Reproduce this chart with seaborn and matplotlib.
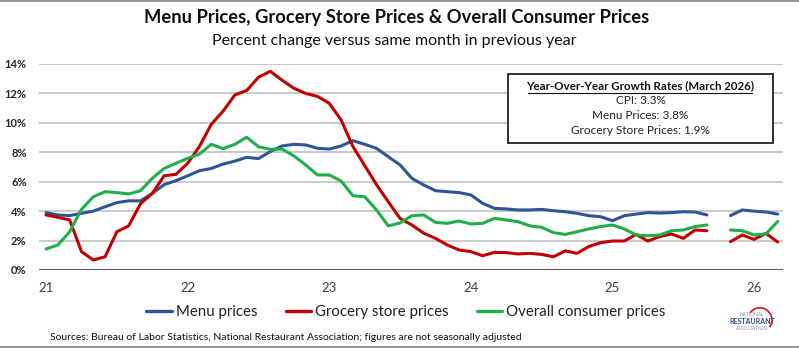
import numpy as np
import pandas as pd
import matplotlib
matplotlib.use("Agg")
import matplotlib.pyplot as plt
from matplotlib.lines import Line2D
from matplotlib.patches import Arc
import seaborn as sns

sns.set_theme(style="white")
plt.rcParams['font.family'] = ['Lato', 'DejaVu Sans']

# Monthly data Jan 2021 .. Mar 2026 (Oct 2025 missing)
months = pd.date_range("2021-01-01", "2026-03-01", freq="MS")

menu_prices = [3.9, 3.74, 3.7, 3.85, 4.0, 4.3, 4.58, 4.7, 4.7, 5.2, 5.8, 6.07,
               6.4, 6.75, 6.9, 7.2, 7.4, 7.66, 7.57, 8.05, 8.43, 8.54, 8.5, 8.27,
               8.22, 8.43, 8.79, 8.54, 8.27, 7.7, 7.14, 6.23, 5.78, 5.39, 5.32, 5.26,
               5.1, 4.53, 4.19, 4.15, 4.08, 4.08, 4.12, 4.03, 3.96, 3.85, 3.69, 3.62,
               3.35, 3.69, 3.8, 3.9, 3.87, 3.9, 3.96, 3.94, 3.74, np.nan, 3.7, 4.08,
               4.0, 3.94, 3.8]

grocery_prices = [3.74, 3.58, 3.4, 1.25, 0.68, 0.9, 2.6, 3.0, 4.5, 5.2, 6.4, 6.5,
                  7.25, 8.4, 9.9, 10.8, 11.9, 12.2, 13.1, 13.5, 12.9, 12.35, 12.0, 11.8,
                  11.33, 10.2, 8.4, 7.1, 5.8, 4.64, 3.5, 3.06, 2.5, 2.15, 1.7, 1.36,
                  1.25, 0.97, 1.2, 1.18, 1.09, 1.13, 1.06, 0.9, 1.3, 1.13, 1.6, 1.86,
                  1.97, 1.97, 2.42, 1.97, 2.27, 2.45, 2.15, 2.72, 2.67, np.nan, 1.93, 2.38,
                  2.08, 2.49, 1.9]

consumer_prices = [1.43, 1.7, 2.6, 4.12, 4.98, 5.32, 5.26, 5.17, 5.39, 6.23, 6.9, 7.25,
                   7.59, 7.88, 8.54, 8.25, 8.54, 9.02, 8.38, 8.2, 8.22, 7.75, 7.14, 6.46,
                   6.46, 6.05, 5.05, 4.98, 4.08, 3.0, 3.2, 3.69, 3.74, 3.24, 3.17, 3.33,
                   3.13, 3.17, 3.51, 3.4, 3.28, 3.0, 2.9, 2.54, 2.42, 2.6, 2.79, 2.95,
                   3.06, 2.79, 2.38, 2.33, 2.38, 2.67, 2.72, 2.95, 3.06, np.nan, 2.72, 2.67,
                   2.38, 2.45, 3.3]

series_names = ["Menu prices", "Grocery store prices", "Overall consumer prices"]
series_colors = ["#2F5597", "#C00000", "#1FAE4B"]
year_labels = ["21", "22", "23", "24", "25", "26"]
ytick_values = [0, 2, 4, 6, 8, 10, 12, 14]

box_title = "Year-Over-Year Growth Rates (March 2026)"
box_lines = ["CPI: 3.3%", "Menu Prices: 3.8%", "Grocery Store Prices: 1.9%"]

# Build long table; split into segments at missing months
month_index = np.arange(len(months))
rows = []
for name, vals in zip(series_names, [menu_prices, grocery_prices, consumer_prices]):
    seg = 0
    for i, v in zip(month_index, vals):
        if np.isnan(v):
            seg += 1
            continue
        rows.append({"m": i, "value": v, "series": name, "seg": seg})
df = pd.DataFrame(rows)

fig = plt.figure(figsize=(7.99, 3.48), dpi=100)
ax = fig.add_axes([39/799, 1-270/348, (783-39)/799, (270-64)/348])

sns.lineplot(data=df, x="m", y="value", hue="series", units="seg", estimator=None,
             palette=dict(zip(series_names, series_colors)), hue_order=series_names,
             linewidth=2.2, ax=ax, legend=False, sort=True)

ax.set_xlim(-0.6, 62.45)
ax.set_ylim(0, 14)
ax.set_yticks(ytick_values)
ax.set_yticklabels([f"{v}%" for v in ytick_values], fontsize=8, fontweight="bold", color="#262626")
ax.set_xticks([12*i for i in range(len(year_labels))])
ax.set_xticklabels(year_labels, fontsize=9.5, color="#404040")
ax.tick_params(axis="both", length=0)
ax.tick_params(axis="y", pad=9)
ax.tick_params(axis="x", pad=9)
for v in ytick_values[1:]:
    ax.axhline(v, color="#C0C0C0", linewidth=1.2, zorder=0)
ax.axhline(0, color="#606060", linewidth=1.5, zorder=0)
for s in ax.spines.values():
    s.set_visible(False)
ax.set_xlabel("")
ax.set_ylabel("")

# Title and subtitle
fig.text(0.497, 1-18/348, "Menu Prices, Grocery Store Prices & Overall Consumer Prices",
         ha="center", va="center", fontsize=13.2, fontweight="bold", color="#111111")
fig.text(0.493, 1-41/348, "Percent change versus same month in previous year",
         ha="center", va="center", fontsize=11.5, color="#111111")

# Info box
bx0, bx1, by0, by1 = 508/799, 773/799, 1-143/348, 1-74/348
fig.patches.append(plt.Rectangle((bx0, by0), bx1-bx0, by1-by0, transform=fig.transFigure,
                                 facecolor="white", edgecolor="#222222", linewidth=1.3, zorder=5))
bcx = (bx0+bx1)/2
fig.text(bcx, 1-86/348, box_title, ha="center", va="center", fontsize=8.3,
         fontweight="bold", color="#111111", zorder=6)
fig.add_artist(Line2D([528/799, 752/799], [1-93/348, 1-93/348], color="#111111", linewidth=0.8, zorder=6))
for k, line in enumerate(box_lines):
    fig.text(bcx, 1-(101+15*k)/348, line, ha="center", va="center", fontsize=8.5,
             color="#222222", zorder=6)

# Legend
handles = [Line2D([0], [0], color=c, linewidth=2.4) for c in series_colors]
fig.legend(handles, series_names, loc="center", bbox_to_anchor=(0.508, 1-312/348), ncol=3,
           frameon=False, fontsize=10.8, handlelength=1.7, handletextpad=0.25, columnspacing=1.9,
           labelcolor="#222222")

# Source
fig.text(50/799, 1-338/348,
         "Sources: Bureau of Labor Statistics, National Restaurant Association; figures are not seasonally adjusted",
         ha="left", va="center", fontsize=7.5, color="#111111")

# Logo (text-based)
fig.text(752/799, 1-315/348, "NATIONAL", ha="center", va="center", fontsize=3.5, color="#7F8FA6")
fig.text(752/799, 1-322/348, "RESTAURANT", ha="center", va="center", fontsize=5, fontweight="bold", color="#2F4A7A")
fig.text(752/799, 1-329/348, "ASSOCIATION", ha="center", va="center", fontsize=3.5, color="#7F8FA6")
fig.add_artist(Arc((0.951, 1-320/348), 0.03, 0.07, theta1=-60, theta2=120,
                   transform=fig.transFigure, color="#D03030", linewidth=1.4))

# Thin border lines top and bottom
fig.add_artist(Line2D([0, 1], [0.998, 0.998], color="#808080", linewidth=1.2))
fig.add_artist(Line2D([0, 1], [0.003, 0.003], color="#808080", linewidth=1.2))

fig.savefig("out.png", dpi=100)
